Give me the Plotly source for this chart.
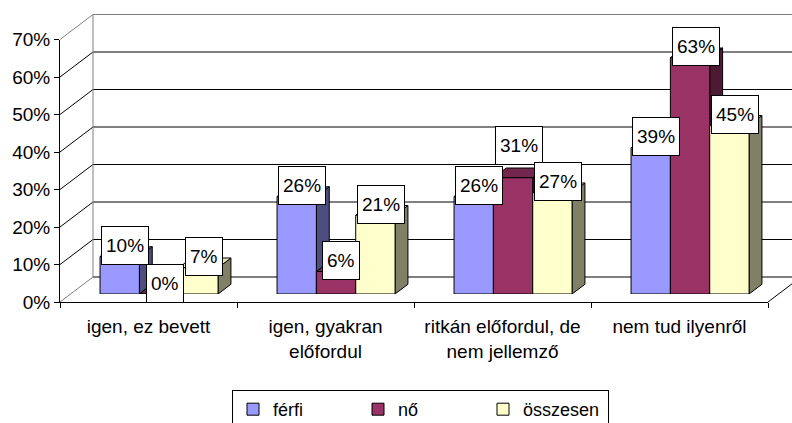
import plotly.graph_objects as go

# ---------------- data ----------------
categories = ["igen, ez bevett", "igen, gyakran<br>előfordul",
              "ritkán előfordul, de<br>nem jellemző", "nem tud ilyenről"]
series_names = ["férfi", "nő", "összesen"]
ferfi = [0.10, 0.26, 0.26, 0.39]
no = [0.00, 0.06, 0.31, 0.63]
osszesen = [0.07, 0.21, 0.27, 0.45]
y_tick_vals = [0, 0.1, 0.2, 0.3, 0.4, 0.5, 0.6, 0.7]

front_colors = ["#9999FF", "#993366", "#FFFFCC"]
top_colors = ["#7A7ACC", "#73264D", "#E6E6B8"]
side_colors = ["#4D4D80", "#4D1A33", "#808066"]

series_values = [ferfi, no, osszesen]

# extra upward nudge (px) for labels moved to avoid overlap: (category, series)
label_nudge = {(2, 1): 21}

# ---------------- geometry (pixels) ----------------
W, H = 792, 423
FX0, FX1 = 60, 768          # front x-axis extent
FY0 = 302                   # front 0% level
PX_UNIT = 375               # pixels per 1.0 (100%)
DEPTH = (33, -25)           # depth vector (front -> back wall)
BAR_FRONT_FRAC, BAR_BACK_FRAC = 0.32, 0.71
YMAX = 0.7

ML, MR, MT = FX0, 0, 14
MB = H - FY0
PW, PH = W - ML - MR, H - MT - MB


def pp(px, py):
    """pixel -> paper coords"""
    return (px - ML) / PW, (FY0 - py) / PH


n_cat = len(categories)
cat_w = (FX1 - FX0) / n_cat
bargap = 1 / 3
bw = (1 - bargap) / 3  # bar width in category units

bfx = DEPTH[0] * BAR_FRONT_FRAC
bfy = DEPTH[1] * BAR_FRONT_FRAC
sdx_px = DEPTH[0] * (BAR_BACK_FRAC - BAR_FRONT_FRAC)
sdy_px = -DEPTH[1] * (BAR_BACK_FRAC - BAR_FRONT_FRAC)
sdx = sdx_px / cat_w
sdy = sdy_px / PX_UNIT

font_family = "Liberation Sans, Arial, sans-serif"

fig = go.Figure()

# invisible carrier trace so that the front (labelled) axes are drawn
fig.add_trace(go.Scatter(x=list(range(n_cat)), y=[None] * n_cat, xaxis="x", yaxis="y",
                         mode="markers", showlegend=False, hoverinfo="skip"))

# ---------------- bars (front faces) ----------------
for j, (name, vals) in enumerate(zip(series_names, series_values)):
    fig.add_trace(go.Bar(
        x=list(range(n_cat)), y=vals, name=name,
        xaxis="x2", yaxis="y2",
        marker=dict(color=front_colors[j], line=dict(color="black", width=1)),
        hoverinfo="skip",
    ))

shapes = []
# ---------------- back wall / left wall / floor ----------------
BX0 = FX0 + DEPTH[0]
for v in y_tick_vals:
    yf = FY0 - v * PX_UNIT
    yb = yf + DEPTH[1]
    col = "#808080" if v == y_tick_vals[-1] else "black"
    x0, y0 = pp(BX0, yb)
    x1, y1 = pp(FX1 + DEPTH[0], yb)
    shapes.append(dict(type="line", xref="paper", yref="paper", x0=x0, y0=y0, x1=x1, y1=y1,
                       line=dict(color=col, width=1), layer="below"))
    dcol = "#808080" if v in (y_tick_vals[0], y_tick_vals[-1]) else "black"
    a0, b0 = pp(FX0, yf)
    a1, b1 = pp(BX0, yb)
    shapes.append(dict(type="line", xref="paper", yref="paper", x0=a0, y0=b0, x1=a1, y1=b1,
                       line=dict(color=dcol, width=1), layer="below"))
# left wall back vertical edge
a0, b0 = pp(BX0, FY0 + DEPTH[1])
a1, b1 = pp(BX0, FY0 + DEPTH[1] - YMAX * PX_UNIT)
shapes.append(dict(type="line", xref="paper", yref="paper", x0=a0, y0=b0, x1=a1, y1=b1,
                   line=dict(color="#808080", width=1), layer="below"))
# floor right diagonal
a0, b0 = pp(FX1, FY0)
a1, b1 = pp(FX1 + DEPTH[0], FY0 + DEPTH[1])
shapes.append(dict(type="line", xref="paper", yref="paper", x0=a0, y0=b0, x1=a1, y1=b1,
                   line=dict(color="black", width=1), layer="below"))

# ---------------- bar side and top faces + labels ----------------
annotations = []
for i in range(n_cat):
    for j, vals in enumerate(series_values):
        v = vals[i]
        x0 = i - 1.5 * bw + j * bw
        x1 = x0 + bw
        if v > 0:
            side = (f"M {x1},0 L {x1 + sdx},{sdy} L {x1 + sdx},{v + sdy} "
                    f"L {x1},{v} Z")
            shapes.append(dict(type="path", xref="x2", yref="y2", path=side,
                               fillcolor=side_colors[j], line=dict(color="black", width=1),
                               layer="below"))
        top = (f"M {x0},{v} L {x0 + sdx},{v + sdy} L {x1 + sdx},{v + sdy} "
               f"L {x1},{v} Z")
        shapes.append(dict(type="path", xref="x2", yref="y2", path=top,
                           fillcolor=top_colors[j], line=dict(color="black", width=1),
                           layer="below"))
        annotations.append(dict(
            x=(x0 + x1) / 2 + sdx / 2, y=v + sdy / 2, xref="x2", yref="y2",
            text=f"{round(v * 100)}%", showarrow=False,
            yshift=6 + label_nudge.get((i, j), 0), xshift=-1,
            font=dict(family=font_family, size=19, color="black"),
            bgcolor="white", bordercolor="black", borderwidth=1, borderpad=4,
            height=29, xanchor="center", yanchor="middle",
        ))

front_x_dom = [0, (FX1 - FX0) / PW]
front_y_dom = [0, YMAX * PX_UNIT / PH]
bx_dom = [bfx / PW, (FX1 - FX0 + bfx) / PW]
by_dom = [-bfy / PH, (-bfy + YMAX * PX_UNIT) / PH]

fig.update_layout(
    width=W, height=H,
    margin=dict(l=ML, r=MR, t=MT, b=MB, pad=0, autoexpand=False),
    paper_bgcolor="white", plot_bgcolor="rgba(0,0,0,0)",
    font=dict(family=font_family, color="black"),
    barmode="group", bargap=bargap, bargroupgap=0,
    shapes=shapes, annotations=annotations,
    xaxis=dict(
        domain=front_x_dom, range=[-0.5, n_cat - 0.5], anchor="y",
        showgrid=False, zeroline=False, showline=True, linecolor="black", linewidth=1,
        tickmode="array", tickvals=list(range(n_cat)), ticktext=categories,
        ticks="", tickfont=dict(size=19, family=font_family), ticklabelstandoff=7,
        minor=dict(tickmode="array", tickvals=[k - 0.5 for k in range(n_cat + 1)],
                   ticks="outside", ticklen=5, tickcolor="black", showgrid=False),
        fixedrange=True, automargin=False,
    ),
    yaxis=dict(
        domain=front_y_dom, range=[0, YMAX], anchor="x",
        showgrid=False, zeroline=False, showline=True, linecolor="black", linewidth=1,
        tickmode="array", tickvals=y_tick_vals, tickformat=".0%",
        ticks="outside", ticklen=5, tickcolor="black",
        tickfont=dict(size=19, family=font_family), fixedrange=True, automargin=False,
    ),
    xaxis2=dict(domain=bx_dom, range=[-0.5, n_cat - 0.5], anchor="y2", visible=False,
                fixedrange=True),
    yaxis2=dict(domain=by_dom, range=[0, YMAX], anchor="x2", visible=False,
                fixedrange=True),
    legend=dict(
        orientation="h", x=pp(232, 0)[0], y=pp(0, 390)[1], xanchor="left", yanchor="top",
        bordercolor="black", borderwidth=1, bgcolor="white",
        font=dict(size=18, family=font_family), entrywidth=80, entrywidthmode="pixels",
        itemclick=False, itemdoubleclick=False,
    ),
    showlegend=True,
)

fig.write_html("out.html", config={"displayModeBar": False},
               post_script="document.body.style.margin='0';document.body.style.overflow='hidden';")
